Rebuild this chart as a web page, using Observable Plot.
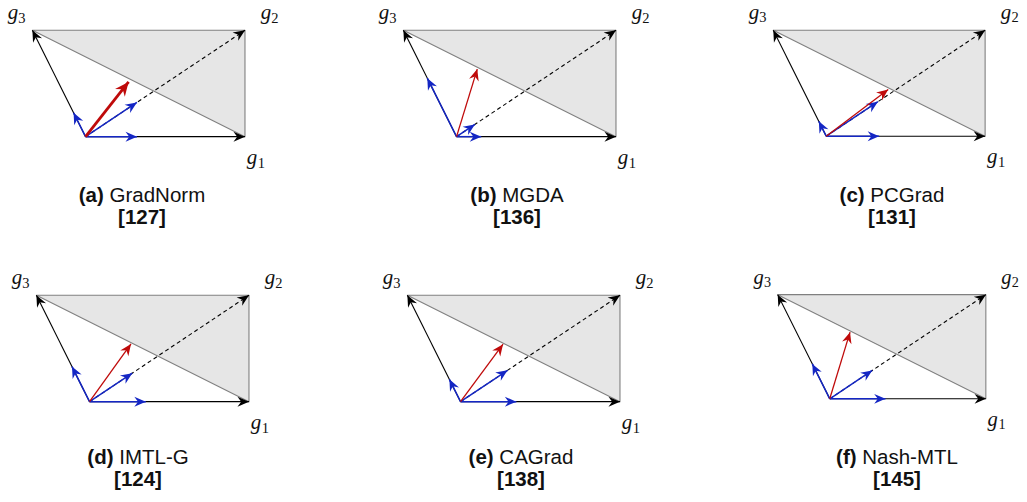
<!DOCTYPE html>
<html>
<head>
<meta charset="utf-8">
<script src="https://cdn.jsdelivr.net/npm/d3@7"></script>
<script src="https://cdn.jsdelivr.net/npm/@observablehq/plot@0.6"></script>
<style>
  html, body { margin: 0; padding: 0; background: #fff; }
  body { width: 1027px; height: 502px; position: relative; overflow: hidden; font-family: "Liberation Sans", Arial, Helvetica, sans-serif; }
  .panel { position: absolute; }
  .cap { position: absolute; transform: translateX(-50%); text-align: center; font-size: 20.5px; line-height: 22px; color: #111; white-space: nowrap; }
  .cap b { font-weight: bold; }
</style>
</head>
<body>
<script>
// ---- data ----
const panelLetters = ["(a)", "(b)", "(c)", "(d)", "(e)", "(f)"];
const methodNames = ["GradNorm", "MGDA", "PCGrad", "IMTL-G", "CAGrad", "Nash-MTL"];
const methodRefs = ["[127]", "[136]", "[131]", "[124]", "[138]", "[145]"];
// task gradients g1, g2, g3
const gradNames = ["1", "2", "3"];
const gradVectors = [[3, 0], [3, 2], [-1, 2]];
// weights of the (blue) scaled gradients along g1, g2, g3 per method
const blueWeights = [
  [0.323, 0.322, 0.225],
  [0.155, 0.115, 0.55],
  [0.333, 0.325, 0.14],
  [0.353, 0.268, 0.33],
  [0.35, 0.295, 0.21],
  [0.357, 0.272, 0.335]
];
// resulting update direction (red) per method
const updateVectors = [
  [0.81, 1.03],
  [0.39, 1.27],
  [1.17, 0.88],
  [0.78, 1.085],
  [0.8, 1.08],
  [0.39, 1.28]
];

// ---- layout (page pixels) ----
const panelLeft = [0, 371, 741, 4, 375, 746];
const panelTop = [0, 0, 0, 265, 265, 265];
const captionCenter = [142, 517, 892, 138, 521, 897];
const captionTop = [184, 184, 184, 446, 446, 446];

const BLUE = "#1426c4";
const RED = "#bf0a0a";

function stealth(len, hw) {
  return (color) => {
    const m = d3.create("svg:marker")
      .attr("viewBox", `${-len} ${-hw} ${len} ${2 * hw}`)
      .attr("markerWidth", len)
      .attr("markerHeight", 2 * hw)
      .attr("markerUnits", "userSpaceOnUse")
      .attr("orient", "auto")
      .attr("refX", 0)
      .attr("refY", 0)
      .attr("overflow", "visible");
    m.append("path")
      .attr("d", `M0,0L${-len},${-hw}L${-len * 0.68},0L${-len},${hw}Z`)
      .attr("fill", color)
      .attr("stroke", "none");
    return m.node();
  };
}

const origin = [0, 0];
const [g1, g2, g3] = gradVectors;

methodNames.forEach((name, i) => {
  const tri = [g3, g2, g1, g3].map(([x, y]) => ({x, y}));
  const blackSolid = [g1, g3].map(([x, y]) => ({x1: origin[0], y1: origin[1], x2: x, y2: y}));
  const blackDashed = [g2].map(([x, y]) => ({x1: origin[0], y1: origin[1], x2: x, y2: y}));
  const blue = gradVectors.map(([x, y], k) => ({x1: origin[0], y1: origin[1], x2: x * blueWeights[i][k], y2: y * blueWeights[i][k]}));
  const red = [updateVectors[i]].map(([x, y]) => ({x1: origin[0], y1: origin[1], x2: x, y2: y}));
  const thick = i === 0;

  const labelOffsets = [
    {g: [7, 20.6], d: [16.5, 26.5]},
    {g: [21, -17.6], d: [30, -12.4]},
    {g: [-19.5, -17.6], d: [-10.5, -12.4]}
  ];
  const labelMarks = gradVectors.flatMap(([x, y], k) => [
    Plot.text([{x, y}], {x: "x", y: "y", text: () => "g", dx: labelOffsets[k].g[0], dy: labelOffsets[k].g[1],
      fontSize: 21, fontStyle: "italic", fontFamily: "'Liberation Serif', 'Times New Roman', serif", fill: "#111"}),
    Plot.text([{x, y}], {x: "x", y: "y", text: () => gradNames[k], dx: labelOffsets[k].d[0], dy: labelOffsets[k].d[1],
      fontSize: 14.5, fontFamily: "'Liberation Serif', 'Times New Roman', serif", fill: "#111"})
  ]);

  const chart = Plot.plot({
    width: 287,
    height: 175,
    margin: 0,
    x: {domain: [-1.6, 3.8], axis: null},
    y: {domain: [-0.73, 2.56], axis: null},
    style: {overflow: "visible", background: "transparent"},
    marks: [
      Plot.line(tri, {x: "x", y: "y", fill: "#e6e6e6", stroke: "#808080", strokeWidth: 1.1}),
      Plot.link(blackSolid, {x1: "x1", y1: "y1", x2: "x2", y2: "y2", stroke: "#000", strokeWidth: 1.1, markerEnd: stealth(11.5, 5)}),
      Plot.link(blackDashed, {x1: "x1", y1: "y1", x2: "x2", y2: "y2", stroke: "#000", strokeWidth: 1.1, strokeDasharray: "4,3", markerEnd: stealth(11.5, 5)}),
      Plot.link(blue, {x1: "x1", y1: "y1", x2: "x2", y2: "y2", stroke: BLUE, strokeWidth: 1.5, markerEnd: stealth(11.5, 5)}),
      Plot.link(red, {x1: "x1", y1: "y1", x2: "x2", y2: "y2", stroke: RED, strokeWidth: thick ? 2.8 : 1.3, markerEnd: thick ? stealth(14, 6.2) : stealth(11.5, 5)}),
      ...labelMarks
    ]
  });
  const div = document.createElement("div");
  div.className = "panel";
  div.style.left = panelLeft[i] + "px";
  div.style.top = panelTop[i] + "px";
  div.appendChild(chart);
  document.body.appendChild(div);

  const cap = document.createElement("div");
  cap.className = "cap";
  cap.style.left = captionCenter[i] + "px";
  cap.style.top = captionTop[i] + "px";
  cap.innerHTML = `<b>${panelLetters[i]}</b> ${name}<br><b>${methodRefs[i]}</b>`;
  document.body.appendChild(cap);
});
</script>
</body>
</html>
